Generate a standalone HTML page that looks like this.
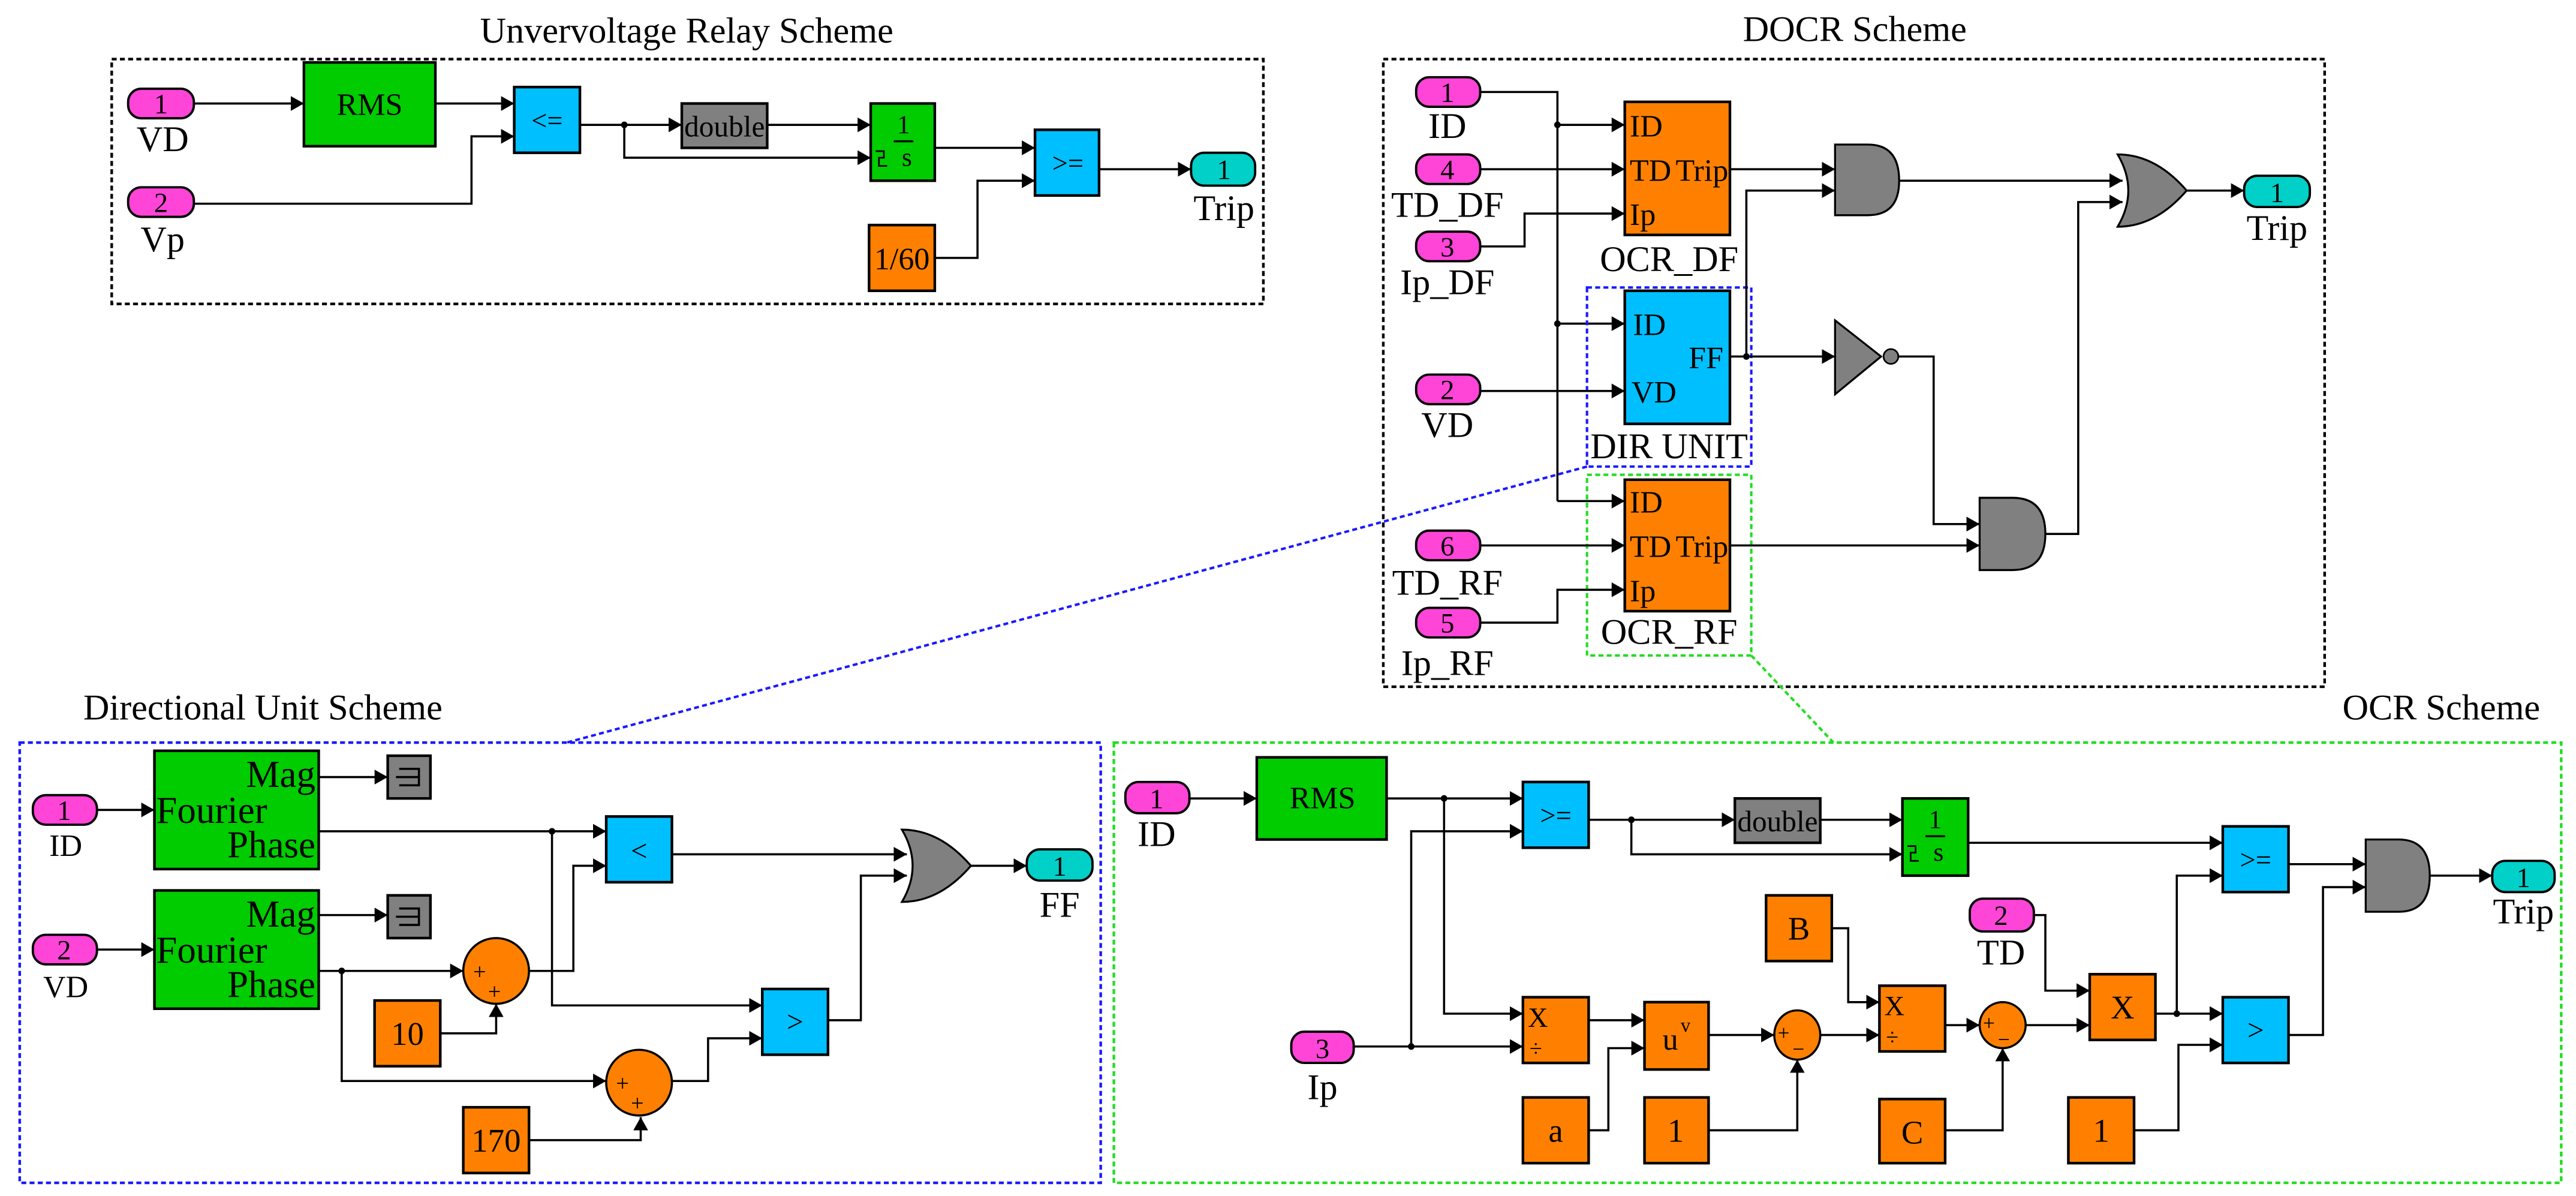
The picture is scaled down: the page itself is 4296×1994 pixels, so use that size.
<!DOCTYPE html>
<html><head><meta charset="utf-8">
<style>
html,body{margin:0;padding:0;background:#fff;}
svg{display:block;}
text{font-family:"Liberation Serif","Times New Roman",serif;fill:#000;}
.w{fill:none;stroke:#000;stroke-width:1.3;}
.a{fill:none;stroke:#000;stroke-width:1.3;marker-end:url(#ar);}
.b{stroke:#000;stroke-width:1.6;}
.pk{fill:#ff44d8;stroke:#000;stroke-width:1.4;}
.tl{fill:#00d0c8;stroke:#000;stroke-width:1.4;}
.gr{fill:#00cc00;}
.bl{fill:#00bfff;}
.or{fill:#ff8000;}
.gy{fill:#808080;}
</style></head>
<body>
<svg width="4296" height="1994" viewBox="0 0 1568 728" preserveAspectRatio="none" xmlns="http://www.w3.org/2000/svg" font-family="'Liberation Serif','Times New Roman',serif">
<defs>
<marker id="ar" markerUnits="userSpaceOnUse" markerWidth="10" markerHeight="10" refX="8" refY="4.5" orient="auto">
<path d="M0,0 L8,4.5 L0,9 Z" fill="#000"/>
</marker>
</defs>

<!-- ============ Panel 1: Undervoltage ============ -->
<text x="418" y="26" font-size="22" text-anchor="middle">Unvervoltage Relay Scheme</text>
<rect x="68" y="36" width="701" height="149" fill="none" stroke="#000" stroke-width="1.6" stroke-dasharray="3,2"/>
<rect class="pk" x="78" y="54" width="40" height="18" rx="8"/><text x="98" y="69" font-size="17" text-anchor="middle">1</text>
<text x="99" y="92" font-size="22" text-anchor="middle">VD</text>
<rect class="pk" x="78" y="114" width="40" height="18" rx="8"/><text x="98" y="129" font-size="17" text-anchor="middle">2</text>
<text x="99" y="153" font-size="22" text-anchor="middle">Vp</text>
<rect class="b gr" x="185" y="38" width="80" height="51"/><text x="225" y="70" font-size="19" text-anchor="middle">RMS</text>
<polyline class="a" points="118,63 185,63"/>
<rect class="b bl" x="313" y="53" width="40" height="40"/><text x="333" y="79" font-size="17" text-anchor="middle">&lt;=</text>
<polyline class="a" points="265,63 313,63"/>
<polyline class="a" points="118,124 287,124 287,83 313,83"/>
<polyline class="w" points="353,76 380,76"/>
<circle cx="380" cy="76" r="2"/>
<polyline class="a" points="380,76 415,76"/>
<rect class="b gy" x="415" y="63" width="52" height="27"/><text x="441" y="83" font-size="18" text-anchor="middle">double</text>
<polyline class="a" points="467,76 530,76"/>
<polyline class="a" points="380,76 380,96 530,96"/>
<rect class="b gr" x="530" y="63" width="39" height="47"/>
<text x="550" y="81" font-size="16" text-anchor="middle">1</text><line x1="544" y1="86" x2="556" y2="86" stroke="#000" stroke-width="1.2"/>
<text x="552" y="101" font-size="16" text-anchor="middle">s</text>
<path d="M533,92 h5 v4 h-3 v5 h5" fill="none" stroke="#000" stroke-width="1"/>
<rect class="b bl" x="630" y="79" width="39" height="40"/><text x="650" y="105" font-size="17" text-anchor="middle">&gt;=</text>
<polyline class="a" points="569,90 630,90"/>
<rect class="b or" x="529" y="137" width="40" height="40"/><text x="549" y="164" font-size="19" text-anchor="middle">1/60</text>
<polyline class="a" points="569,157 595,157 595,110 630,110"/>
<polyline class="a" points="669,103 725,103"/>
<rect class="tl" x="725" y="93" width="39" height="20" rx="8"/><text x="745" y="109" font-size="17" text-anchor="middle">1</text>
<text x="745" y="134" font-size="22" text-anchor="middle">Trip</text>

<!-- ============ Panel 2: DOCR ============ -->
<text x="1129" y="25" font-size="22" text-anchor="middle">DOCR Scheme</text>
<rect x="842" y="36" width="573" height="382" fill="none" stroke="#000" stroke-width="1.6" stroke-dasharray="3,2"/>
<rect class="pk" x="862" y="47" width="39" height="18" rx="8"/><text x="881" y="62" font-size="17" text-anchor="middle">1</text>
<text x="881" y="84" font-size="22" text-anchor="middle">ID</text>
<rect class="pk" x="862" y="94" width="39" height="18" rx="8"/><text x="881" y="109" font-size="17" text-anchor="middle">4</text>
<text x="881" y="132" font-size="22" text-anchor="middle">TD_DF</text>
<rect class="pk" x="862" y="141" width="39" height="18" rx="8"/><text x="881" y="156" font-size="17" text-anchor="middle">3</text>
<text x="881" y="179" font-size="22" text-anchor="middle">Ip_DF</text>
<rect class="pk" x="862" y="228" width="39" height="18" rx="8"/><text x="881" y="243" font-size="17" text-anchor="middle">2</text>
<text x="881" y="266" font-size="22" text-anchor="middle">VD</text>
<rect class="pk" x="862" y="323" width="39" height="18" rx="8"/><text x="881" y="338" font-size="17" text-anchor="middle">6</text>
<text x="881" y="362" font-size="22" text-anchor="middle">TD_RF</text>
<rect class="pk" x="862" y="370" width="39" height="18" rx="8"/><text x="881" y="385" font-size="17" text-anchor="middle">5</text>
<text x="881" y="411" font-size="22" text-anchor="middle">Ip_RF</text>
<!-- OCR_DF -->
<rect class="b or" x="989" y="62" width="64" height="81"/>
<text x="992" y="83" font-size="19">ID</text><text x="992" y="110" font-size="19">TD</text><text x="992" y="137" font-size="19">Ip</text>
<text x="1052" y="110" font-size="19" text-anchor="end">Trip</text>
<text x="1016" y="165" font-size="22" text-anchor="middle">OCR_DF</text>
<polyline class="w" points="901,56 948,56 948,305"/>
<circle cx="948" cy="76" r="2"/><circle cx="948" cy="197" r="2"/>
<polyline class="a" points="948,76 989,76"/>
<polyline class="a" points="948,197 989,197"/>
<polyline class="a" points="948,305 989,305"/>
<polyline class="a" points="901,103 989,103"/>
<polyline class="a" points="901,150 928,150 928,130 989,130"/>
<!-- DIR UNIT -->
<rect class="b bl" x="989" y="177" width="64" height="81"/>
<text x="994" y="204" font-size="19">ID</text><text x="993" y="245" font-size="19">VD</text>
<text x="1049" y="224" font-size="19" text-anchor="end">FF</text>
<text x="1016" y="279" font-size="22" text-anchor="middle">DIR UNIT</text>
<rect x="966" y="175" width="100" height="109" fill="none" stroke="#1a1aff" stroke-width="1.5" stroke-dasharray="3,2"/>
<polyline class="a" points="901,238 989,238"/>
<!-- OCR_RF -->
<rect class="b or" x="989" y="292" width="64" height="80"/>
<text x="992" y="312" font-size="19">ID</text><text x="992" y="339" font-size="19">TD</text><text x="992" y="366" font-size="19">Ip</text>
<text x="1052" y="339" font-size="19" text-anchor="end">Trip</text>
<text x="1016" y="392" font-size="22" text-anchor="middle">OCR_RF</text>
<rect x="966" y="289" width="100" height="110" fill="none" stroke="#22dd22" stroke-width="1.5" stroke-dasharray="3,2"/>
<polyline class="a" points="901,332 989,332"/>
<polyline class="a" points="901,379 948,379 948,359 989,359"/>
<!-- gates -->
<path d="M1117,88 L1137,88 Q1156,88 1156,110 Q1156,131 1137,131 L1117,131 Z" fill="#808080" stroke="#000" stroke-width="1.2"/>
<polyline class="a" points="1053,103 1117,103"/>
<polyline class="w" points="1053,217 1063,217"/><circle cx="1063" cy="217" r="2"/>
<polyline class="a" points="1063,217 1063,116 1117,116"/>
<path d="M1117,195 L1145,217 L1117,240 Z" fill="#808080" stroke="#000" stroke-width="1.2"/>
<circle cx="1151" cy="217" r="4.5" fill="#808080" stroke="#000" stroke-width="1"/>
<polyline class="a" points="1063,217 1117,217"/>
<polyline class="a" points="1155,217 1177,217 1177,319 1205,319"/>
<path d="M1205,303 L1225,303 Q1245,303 1245,325 Q1245,347 1225,347 L1205,347 Z" fill="#808080" stroke="#000" stroke-width="1.2"/>
<polyline class="a" points="1053,332 1205,332"/>
<polyline class="a" points="1156,110 1292,110"/>
<polyline class="a" points="1245,325 1265,325 1265,123 1292,123"/>
<path d="M1289,94 Q1302,116 1289,138 Q1312,138 1331,116 Q1312,94 1289,94 Z" fill="#808080" stroke="#000" stroke-width="1.2"/>
<polyline class="a" points="1331,116 1366,116"/>
<rect class="tl" x="1366" y="107" width="40" height="19" rx="8"/><text x="1386" y="123" font-size="17" text-anchor="middle">1</text>
<text x="1386" y="146" font-size="22" text-anchor="middle">Trip</text>

<!-- connector dashed lines -->
<line x1="966" y1="284" x2="345" y2="452" stroke="#1a1aff" stroke-width="1.5" stroke-dasharray="3,2"/>
<line x1="1066" y1="399" x2="1116" y2="452" stroke="#22dd22" stroke-width="1.5" stroke-dasharray="3,2"/>

<!-- ============ Panel 3: Directional Unit ============ -->
<text x="160" y="438" font-size="22" text-anchor="middle">Directional Unit Scheme</text>
<rect x="12" y="452" width="658" height="268" fill="none" stroke="#1a1aff" stroke-width="1.6" stroke-dasharray="3,2"/>
<rect class="pk" x="20" y="484" width="39" height="18" rx="8"/><text x="39" y="499" font-size="17" text-anchor="middle">1</text>
<text x="40" y="521" font-size="19" text-anchor="middle">ID</text>
<rect class="pk" x="20" y="569" width="39" height="18" rx="8"/><text x="39" y="584" font-size="17" text-anchor="middle">2</text>
<text x="40" y="607" font-size="19" text-anchor="middle">VD</text>
<rect class="b gr" x="94" y="457" width="100" height="72"/>
<text x="192" y="479" font-size="23" text-anchor="end">Mag</text><text x="95" y="501" font-size="23">Fourier</text><text x="192" y="522" font-size="23" text-anchor="end">Phase</text>
<rect class="b gr" x="94" y="542" width="100" height="72"/>
<text x="192" y="564" font-size="23" text-anchor="end">Mag</text><text x="95" y="586" font-size="23">Fourier</text><text x="192" y="607" font-size="23" text-anchor="end">Phase</text>
<polyline class="a" points="59,493 94,493"/>
<polyline class="a" points="59,578 94,578"/>
<rect class="b gy" x="236" y="460" width="26" height="26"/><path d="M243,468 h12 v10 h-12 M241,473 h14" fill="none" stroke="#000" stroke-width="1.3"/>
<rect class="b gy" x="236" y="545" width="26" height="26"/><path d="M243,553 h12 v10 h-12 M241,558 h14" fill="none" stroke="#000" stroke-width="1.3"/>
<polyline class="a" points="194,473 236,473"/>
<polyline class="a" points="194,557 236,557"/>
<rect class="b bl" x="369" y="497" width="40" height="40"/><text x="389" y="524" font-size="18" text-anchor="middle">&lt;</text>
<polyline class="a" points="194,506 369,506"/><circle cx="336" cy="506" r="2"/>
<polyline class="a" points="336,506 336,612 464,612"/>
<ellipse cx="302" cy="591" rx="20" ry="20" fill="#ff8000" stroke="#000" stroke-width="1.3"/>
<text x="288" y="596" font-size="14">+</text><text x="297" y="608" font-size="14">+</text>
<polyline class="a" points="194,591 282,591"/><circle cx="208" cy="591" r="2"/>
<rect class="b or" x="228" y="609" width="40" height="40"/><text x="248" y="636" font-size="20" text-anchor="middle">10</text>
<polyline class="a" points="268,629 302,629 302,611"/>
<polyline class="a" points="322,591 349,591 349,527 369,527"/>
<rect class="b bl" x="464" y="602" width="40" height="40"/><text x="484" y="628" font-size="18" text-anchor="middle">&gt;</text>
<ellipse cx="389" cy="659" rx="20" ry="20" fill="#ff8000" stroke="#000" stroke-width="1.3"/>
<text x="375" y="664" font-size="14">+</text><text x="384" y="676" font-size="14">+</text>
<polyline class="a" points="208,591 208,658 369,658"/>
<rect class="b or" x="282" y="674" width="40" height="40"/><text x="302" y="701" font-size="20" text-anchor="middle">170</text>
<polyline class="a" points="322,694 390,694 390,680"/>
<polyline class="a" points="409,658 431,658 431,632 464,632"/>
<path d="M549,505 Q562,527 549,549 Q572,549 591,527 Q572,505 549,505 Z" fill="#808080" stroke="#000" stroke-width="1.2"/>
<polyline class="a" points="409,520 552,520"/>
<polyline class="a" points="504,621 524,621 524,533 552,533"/>
<polyline class="a" points="591,527 625,527"/>
<rect class="tl" x="625" y="517" width="40" height="19" rx="8"/><text x="645" y="533" font-size="17" text-anchor="middle">1</text>
<text x="645" y="558" font-size="22" text-anchor="middle">FF</text>

<!-- ============ Panel 4: OCR ============ -->
<text x="1486" y="438" font-size="22" text-anchor="middle">OCR Scheme</text>
<rect x="678" y="452" width="881" height="268" fill="none" stroke="#22dd22" stroke-width="1.6" stroke-dasharray="3,2"/>
<rect class="pk" x="685" y="476" width="39" height="19" rx="8"/><text x="704" y="492" font-size="17" text-anchor="middle">1</text>
<text x="704" y="515" font-size="22" text-anchor="middle">ID</text>
<rect class="b gr" x="765" y="461" width="79" height="50"/><text x="805" y="492" font-size="19" text-anchor="middle">RMS</text>
<polyline class="a" points="724,486 765,486"/>
<rect class="b bl" x="927" y="476" width="40" height="40"/><text x="947" y="502" font-size="17" text-anchor="middle">&gt;=</text>
<polyline class="a" points="844,486 927,486"/><circle cx="879" cy="486" r="2"/>
<rect class="pk" x="786" y="628" width="38" height="19" rx="8"/><text x="805" y="644" font-size="17" text-anchor="middle">3</text>
<text x="805" y="669" font-size="22" text-anchor="middle">Ip</text>
<polyline class="a" points="824,637 927,637"/><circle cx="859" cy="637" r="2"/>
<polyline class="a" points="859,637 859,506 927,506"/>
<polyline class="a" points="879,486 879,617 927,617"/>
<polyline class="w" points="967,499 993,499"/><circle cx="993" cy="499" r="2"/>
<polyline class="a" points="993,499 1056,499"/>
<rect class="b gy" x="1056" y="486" width="52" height="27"/><text x="1082" y="506" font-size="18" text-anchor="middle">double</text>
<polyline class="a" points="1108,499 1158,499"/>
<polyline class="a" points="993,499 993,520 1158,520"/>
<rect class="b gr" x="1158" y="486" width="40" height="47"/>
<text x="1178" y="504" font-size="16" text-anchor="middle">1</text><line x1="1172" y1="509" x2="1184" y2="509" stroke="#000" stroke-width="1.2"/>
<text x="1180" y="524" font-size="16" text-anchor="middle">s</text>
<path d="M1161,515 h5 v4 h-3 v5 h5" fill="none" stroke="#000" stroke-width="1"/>
<rect class="b bl" x="1353" y="503" width="40" height="40"/><text x="1373" y="529" font-size="17" text-anchor="middle">&gt;=</text>
<polyline class="a" points="1198,513 1353,513"/>
<!-- lower chain -->
<rect class="b or" x="927" y="607" width="40" height="40"/><text x="930" y="625" font-size="17">X</text><text x="931" y="643" font-size="14">÷</text>
<rect class="b or" x="1001" y="610" width="39" height="41"/><text x="1012" y="639" font-size="19">u</text><text x="1023" y="628" font-size="12">v</text>
<polyline class="a" points="967,621 1001,621"/>
<rect class="b or" x="927" y="668" width="40" height="40"/><text x="947" y="695" font-size="20" text-anchor="middle">a</text>
<polyline class="a" points="967,688 979,688 979,638 1001,638"/>
<ellipse cx="1094" cy="630" rx="14" ry="15" fill="#ff8000" stroke="#000" stroke-width="1.3"/>
<text x="1082" y="633" font-size="13">+</text><text x="1091" y="643" font-size="13">−</text>
<polyline class="a" points="1040,630 1080,630"/>
<rect class="b or" x="1001" y="668" width="39" height="40"/><text x="1020" y="695" font-size="20" text-anchor="middle">1</text>
<polyline class="a" points="1040,688 1094,688 1094,645"/>
<rect class="b or" x="1144" y="600" width="40" height="40"/><text x="1147" y="618" font-size="17">X</text><text x="1148" y="636" font-size="14">÷</text>
<polyline class="a" points="1108,630 1144,630"/>
<rect class="b or" x="1075" y="545" width="40" height="40"/><text x="1095" y="572" font-size="20" text-anchor="middle">B</text>
<polyline class="a" points="1115,565 1125,565 1125,610 1144,610"/>
<ellipse cx="1219" cy="624" rx="14" ry="14" fill="#ff8000" stroke="#000" stroke-width="1.3"/>
<text x="1207" y="627" font-size="13">+</text><text x="1216" y="637" font-size="13">−</text>
<polyline class="a" points="1184,624 1205,624"/>
<rect class="b or" x="1144" y="669" width="40" height="39"/><text x="1164" y="696" font-size="20" text-anchor="middle">C</text>
<polyline class="a" points="1184,688 1219,688 1219,638"/>
<rect class="pk" x="1199" y="547" width="39" height="20" rx="8"/><text x="1218" y="563" font-size="17" text-anchor="middle">2</text>
<text x="1218" y="587" font-size="22" text-anchor="middle">TD</text>
<rect class="b or" x="1272" y="593" width="40" height="40"/><text x="1292" y="620" font-size="20" text-anchor="middle">X</text>
<polyline class="a" points="1238,557 1245,557 1245,603 1272,603"/>
<polyline class="a" points="1233,624 1272,624"/>
<rect class="b bl" x="1353" y="607" width="40" height="40"/><text x="1373" y="633" font-size="18" text-anchor="middle">&gt;</text>
<polyline class="a" points="1312,617 1353,617"/><circle cx="1325" cy="617" r="2"/>
<polyline class="a" points="1325,617 1325,533 1353,533"/>
<rect class="b or" x="1259" y="668" width="40" height="40"/><text x="1279" y="695" font-size="20" text-anchor="middle">1</text>
<polyline class="a" points="1299,688 1326,688 1326,636 1353,636"/>
<path d="M1440,511 L1460,511 Q1479,511 1479,533 Q1479,555 1460,555 L1440,555 Z" fill="#808080" stroke="#000" stroke-width="1.2"/>
<polyline class="a" points="1393,526 1440,526"/>
<polyline class="a" points="1393,630 1414,630 1414,540 1440,540"/>
<polyline class="a" points="1479,533 1517,533"/>
<rect class="tl" x="1517" y="524" width="38" height="19" rx="8"/><text x="1536" y="540" font-size="17" text-anchor="middle">1</text>
<text x="1536" y="562" font-size="22" text-anchor="middle">Trip</text>
</svg>
</body></html>
